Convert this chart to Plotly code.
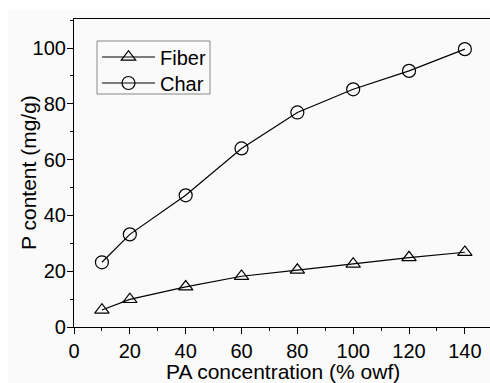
import plotly.graph_objects as go

pa_conc = [10, 20, 40, 60, 80, 100, 120, 140]
fiber_p = [6.1, 9.9, 14.4, 18.2, 20.4, 22.6, 24.9, 26.8]
char_p = [23.2, 33.2, 47.2, 64.0, 76.9, 85.2, 91.8, 99.6]

x_ticks = [0, 20, 40, 60, 80, 100, 120, 140]
y_ticks = [0, 20, 40, 60, 80, 100]

x_title = "PA concentration (% owf)"
y_title = "P content (mg/g)"

plot_w, plot_h = 416, 308
L, T = 74, 19


def px(xp):
    return (xp - L) / plot_w


def py(yp):
    return (T + plot_h - yp) / plot_h


fig = go.Figure()
fig.add_trace(go.Scatter(
    x=pa_conc, y=fiber_p, name="Fiber", mode="lines+markers", legend="legend",
    line=dict(color="black", width=1.2),
    marker=dict(symbol="triangle-up-open", size=12.5, color="black", line=dict(width=1.2)),
))
fig.add_trace(go.Scatter(
    x=pa_conc, y=char_p, name="Char", mode="lines+markers", legend="legend2",
    line=dict(color="black", width=1.2),
    marker=dict(symbol="circle-open", size=13, color="black", line=dict(width=1.2)),
))

font_family = "Liberation Sans, Arial, sans-serif"
leg_common = dict(xanchor="left", yanchor="top", borderwidth=0,
                  bgcolor="rgba(0,0,0,0)", font=dict(size=20), itemwidth=53)
fig.update_layout(
    width=490, height=383,
    margin=dict(l=L, r=0, t=T, b=56),
    paper_bgcolor="white",
    plot_bgcolor="#fafafa",
    font=dict(family=font_family, size=20, color="black"),
    showlegend=True,
    legend=dict(x=px(97), y=py(37.5), **leg_common),
    legend2=dict(x=px(97), y=py(63.5), **leg_common),
    shapes=[
        dict(type="rect", xref="paper", yref="paper",
             x0=-66 / plot_w, x1=1.01, y0=-0.2, y1=1.03,
             fillcolor="#fafafa", line=dict(width=0), layer="below"),
        dict(type="rect", xref="paper", yref="paper",
             x0=px(97), x1=px(210), y0=py(94), y1=py(41),
             fillcolor="rgba(0,0,0,0)", line=dict(width=1, color="#888888"), layer="above"),
    ],
    annotations=[
        dict(text=x_title, xref="paper", yref="paper", x=px(283),
             y=py(371), xanchor="center", yanchor="middle",
             showarrow=False, font=dict(size=21)),
        dict(text=y_title, xref="paper", yref="paper", x=px(28),
             y=0.5, xanchor="center", yanchor="middle", textangle=-90,
             showarrow=False, font=dict(size=21)),
    ],
)
fig.update_xaxes(
    range=[0, 149], tickvals=x_ticks, ticktext=[str(v) for v in x_ticks],
    showline=True, linecolor="black", linewidth=1.2, mirror=True,
    ticks="outside", ticklen=6, tickwidth=1.2, tickcolor="black",
    minor=dict(dtick=10, ticks="outside", ticklen=3, tickwidth=1.2, tickcolor="black", showgrid=False),
    showgrid=False, zeroline=False,
    tickfont=dict(size=20),
)
fig.update_yaxes(
    range=[0, 110.4], tickvals=y_ticks, ticktext=[str(v) for v in y_ticks],
    showline=True, linecolor="black", linewidth=1.2, mirror=False,
    ticks="outside", ticklen=6, tickwidth=1.2, tickcolor="black",
    minor=dict(tickvals=[10, 30, 50, 70, 90, 110], ticks="outside", ticklen=3, tickwidth=1.2, tickcolor="black", showgrid=False),
    showgrid=False, zeroline=False,
    tickfont=dict(size=20), ticklabelstandoff=-3,
)

fig.write_html("out.html")
